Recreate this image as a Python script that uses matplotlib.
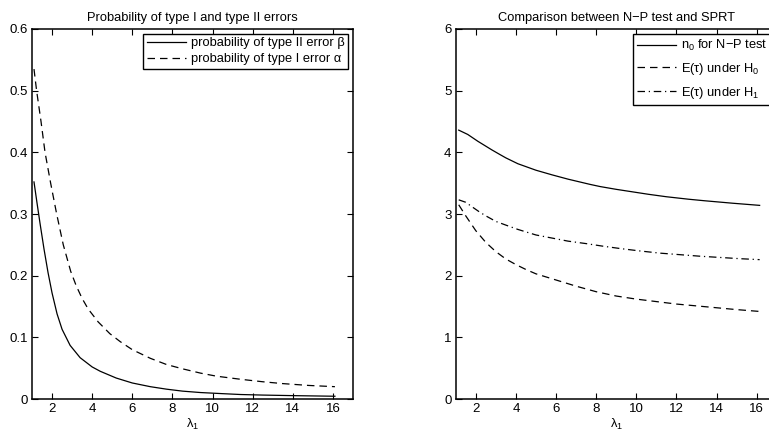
import matplotlib
matplotlib.use('Agg')
import matplotlib.pyplot as plt

plt.rcParams['font.family'] = ['Liberation Sans', 'DejaVu Sans']
plt.rcParams['font.size'] = 9.3

# left panel: error probabilities vs lambda_1
lam_beta = [1.1, 1.25, 1.4, 1.6, 1.8, 2.0, 2.25, 2.5, 2.9, 3.4, 4.0, 4.4, 5.2, 6.0, 6.9,
            7.7, 8.5, 9.4, 10.5, 11.4, 12.5, 14.0, 16.1]
beta = [0.352, 0.318, 0.285, 0.243, 0.205, 0.172, 0.138, 0.113, 0.087, 0.067, 0.052,
        0.045, 0.034, 0.026, 0.020, 0.016, 0.0128, 0.0105, 0.0087, 0.0073, 0.0064,
        0.0055, 0.0045]
lam_alpha = [1.1, 1.23, 1.45, 1.65, 1.93, 2.23, 2.56, 2.93, 3.2, 3.5, 3.8, 4.3, 4.88,
             5.4, 6.0, 6.9, 7.7, 8.5, 9.4, 10.2, 11.4, 12.5, 13.5, 14.8, 16.1]
alpha = [0.535, 0.50, 0.45, 0.40, 0.35, 0.30, 0.250, 0.207, 0.184, 0.163, 0.146, 0.125,
         0.106, 0.093, 0.080, 0.066, 0.056, 0.049, 0.042, 0.037, 0.032, 0.028, 0.025,
         0.022, 0.020]

# right panel: sample sizes
lam_n0 = [1.15, 1.6, 2.1, 2.5, 2.8, 3.2, 3.5, 4.1, 5.0, 5.8, 6.6, 7.7, 8.2, 9.0, 9.8,
          10.6, 11.5, 12.6, 13.4, 14.8, 16.15]
n0 = [4.36, 4.29, 4.18, 4.10, 4.04, 3.965, 3.91, 3.815, 3.71, 3.635, 3.565, 3.48, 3.445,
      3.40, 3.36, 3.32, 3.28, 3.24, 3.215, 3.175, 3.14]
lam_h0 = [1.15, 1.5, 2.0, 2.5, 3.0, 3.5, 4.0, 4.5, 5.0, 5.5, 6.0, 7.0, 8.0, 9.0, 10.0,
          11.0, 12.0, 13.0, 14.0, 15.0, 16.15]
tau_h0 = [3.15, 2.97, 2.73, 2.54, 2.39, 2.27, 2.18, 2.10, 2.03, 1.98, 1.93, 1.83, 1.74,
          1.67, 1.62, 1.58, 1.54, 1.51, 1.48, 1.45, 1.42]
lam_h1 = [1.15, 1.5, 1.8, 2.2, 2.5, 3.0, 3.5, 4.1, 5.0, 5.8, 6.6, 7.5, 8.3, 9.2, 10.2,
          11.2, 12.2, 13.2, 14.2, 15.2, 16.15]
tau_h1 = [3.23, 3.19, 3.12, 3.03, 2.97, 2.88, 2.82, 2.75, 2.66, 2.61, 2.56, 2.52, 2.48,
          2.44, 2.40, 2.365, 2.34, 2.315, 2.295, 2.275, 2.26]

xticks = [2, 4, 6, 8, 10, 12, 14, 16]

fig = plt.figure(figsize=(7.69, 4.34), dpi=100)
ax1 = fig.add_axes([0.0416, 0.0806, 0.4174, 0.8526])
ax2 = fig.add_axes([0.5926, 0.0806, 0.4174, 0.8526])


def style(ax):
    ax.set_xlim(1, 17)
    ax.set_xticks(xticks)
    ax.tick_params(direction='in', top=True, right=True, length=4, width=0.8, pad=3,
                   labelsize=9.5)
    for s in ax.spines.values():
        s.set_linewidth(1.1)
    ax.set_xlabel(r'$\mathregular{λ_1}$', labelpad=1)


ax1.plot(lam_beta, beta, 'k-', lw=0.9, label=r'probability of type II error β')
ax1.plot(lam_alpha, alpha, 'k--', lw=0.9, dashes=(6, 4), label=r'probability of type I error α')
style(ax1)
ax1.set_ylim(0, 0.6)
ax1.set_yticks([0, 0.1, 0.2, 0.3, 0.4, 0.5, 0.6])
ax1.set_yticklabels(['0', '0.1', '0.2', '0.3', '0.4', '0.5', '0.6'])
ax1.set_title('Probability of type I and type II errors', fontsize=9.3, pad=6)
leg1 = ax1.legend(loc='upper right', handlelength=3.0, fancybox=False, framealpha=1,
                  borderaxespad=0.35, handletextpad=0.4, labelspacing=0.3,
                  borderpad=0.3)
leg1.get_frame().set_edgecolor('black')
leg1.get_frame().set_linewidth(1.0)

ax2.plot(lam_n0, n0, 'k-', lw=0.9, label=r'$\mathregular{n_0}$ for N−P test')
ax2.plot(lam_h0, tau_h0, 'k--', lw=0.9, dashes=(6, 4), label=r'E(τ) under $\mathregular{H_0}$')
ax2.plot(lam_h1, tau_h1, 'k-.', lw=0.9, dashes=(6, 3, 1, 3), label=r'E(τ) under $\mathregular{H_1}$')
style(ax2)
ax2.set_ylim(0, 6)
ax2.set_yticks([0, 1, 2, 3, 4, 5, 6])
ax2.set_title('Comparison between N−P test and SPRT', fontsize=9.3, pad=6)
leg2 = ax2.legend(loc='upper right', handlelength=3.0, fancybox=False, framealpha=1,
                  borderaxespad=0.35, handletextpad=0.4, labelspacing=0.6,
                  borderpad=0.35)
leg2.get_frame().set_edgecolor('black')
leg2.get_frame().set_linewidth(1.0)

fig.savefig('out.png', dpi=100)
